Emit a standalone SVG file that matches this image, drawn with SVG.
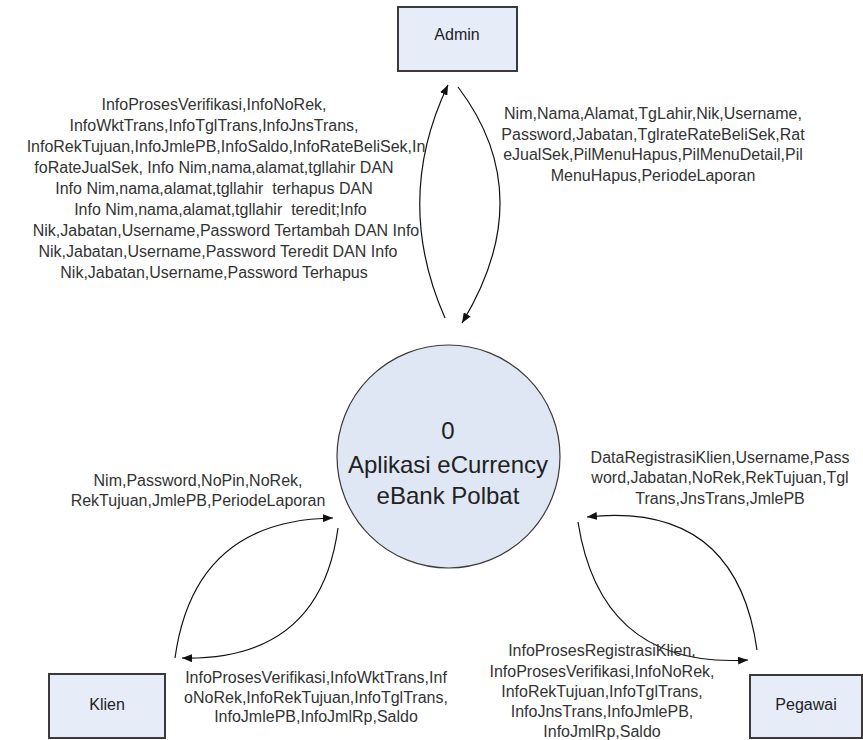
<svg xmlns="http://www.w3.org/2000/svg" width="863" height="740" viewBox="0 0 863 740">
<style>
.box{fill:#e6ecf8;stroke:#3a3a3a;stroke-width:2}
.proc{fill:#dfe7f4;stroke:#3a3a3a;stroke-width:1.2}
.lbl{font-family:"Liberation Sans",Arial,sans-serif;font-size:16px;fill:#333;text-anchor:middle}
.name{font-family:"Liberation Sans",Arial,sans-serif;font-size:16px;fill:#222;text-anchor:middle}
.ptxt{font-family:"Liberation Sans",Arial,sans-serif;font-size:24px;fill:#222;text-anchor:middle}
.flow{fill:none;stroke:#111;stroke-width:1.2;marker-end:url(#arr)}
</style>
<defs>
<marker id="arr" markerUnits="userSpaceOnUse" markerWidth="11" markerHeight="8" refX="10" refY="4" orient="auto">
<path d="M0,0 L10,4 L0,8 z" fill="#111"/>
</marker>
</defs>
<rect width="863" height="740" fill="#fff"/>
<g id="admin">
<rect class="box" x="398" y="7" width="119" height="64"/>
<text class="name" x="457" y="40">Admin</text>
</g>
<g id="klien">
<rect class="box" x="49" y="674" width="116" height="64"/>
<text class="name" x="107" y="710">Klien</text>
</g>
<g id="pegawai">
<rect class="box" x="750" y="675" width="112" height="63"/>
<text class="name" x="806" y="710">Pegawai</text>
</g>
<g id="process">
<circle class="proc" cx="448.5" cy="456.5" r="111.5"/>
<text class="ptxt" x="448" y="439">0</text>
<text class="ptxt" x="448" y="473">Aplikasi eCurrency</text>
<text class="ptxt" x="448" y="504">eBank Polbat</text>
</g>
<g id="connectors">
<path class="flow" d="M445,318 Q393,200 448,85"/>
<path class="flow" d="M458,87 Q540,195 462,323"/>
<path class="flow" d="M175,658 Q194,520 333,518"/>
<path class="flow" d="M338,528 Q320,661 182,658"/>
<path class="flow" d="M757,650 Q736,501 587,517"/>
<path class="flow" d="M578,522 Q601,669 748,660"/>
</g>
<g id="labels">
<text class="lbl" x="214" y="110">InfoProsesVerifikasi,InfoNoRek,</text>
<text class="lbl" x="214" y="131">InfoWktTrans,InfoTglTrans,InfoJnsTrans,</text>
<text class="lbl" x="226" y="152">InfoRekTujuan,InfoJmlePB,InfoSaldo,InfoRateBeliSek,In</text>
<text class="lbl" x="214" y="173">foRateJualSek, Info Nim,nama,alamat,tgllahir DAN</text>
<text class="lbl" x="214" y="194" xml:space="preserve">Info Nim,nama,alamat,tgllahir  terhapus DAN</text>
<text class="lbl" x="216" y="215" xml:space="preserve">  Info Nim,nama,alamat,tgllahir  teredit;Info</text>
<text class="lbl" x="226" y="236">Nik,Jabatan,Username,Password Tertambah DAN Info</text>
<text class="lbl" x="218" y="257">Nik,Jabatan,Username,Password Teredit DAN Info</text>
<text class="lbl" x="214" y="278">Nik,Jabatan,Username,Password Terhapus</text>

<text class="lbl" x="653" y="119">Nim,Nama,Alamat,TgLahir,Nik,Username,</text>
<text class="lbl" x="653" y="139.5">Password,Jabatan,TglrateRateBeliSek,Rat</text>
<text class="lbl" x="653" y="160">eJualSek,PilMenuHapus,PilMenuDetail,Pil</text>
<text class="lbl" x="653" y="180.5">MenuHapus,PeriodeLaporan</text>

<text class="lbl" x="198" y="486">Nim,Password,NoPin,NoRek,</text>
<text class="lbl" x="198" y="506">RekTujuan,JmlePB,PeriodeLaporan</text>

<text class="lbl" x="316" y="683">InfoProsesVerifikasi,InfoWktTrans,Inf</text>
<text class="lbl" x="316" y="703">oNoRek,InfoRekTujuan,InfoTglTrans,</text>
<text class="lbl" x="316" y="722">InfoJmlePB,InfoJmlRp,Saldo</text>

<text class="lbl" x="720" y="463">DataRegistrasiKlien,Username,Pass</text>
<text class="lbl" x="720" y="483">word,Jabatan,NoRek,RekTujuan,Tgl</text>
<text class="lbl" x="720" y="504">Trans,JnsTrans,JmlePB</text>

<text class="lbl" x="602" y="656">InfoProsesRegistrasiKlien,</text>
<text class="lbl" x="602" y="677">InfoProsesVerifikasi,InfoNoRek,</text>
<text class="lbl" x="602" y="697">InfoRekTujuan,InfoTglTrans,</text>
<text class="lbl" x="602" y="717">InfoJnsTrans,InfoJmlePB,</text>
<text class="lbl" x="602" y="737">InfoJmlRp,Saldo</text>
</g>
</svg>
